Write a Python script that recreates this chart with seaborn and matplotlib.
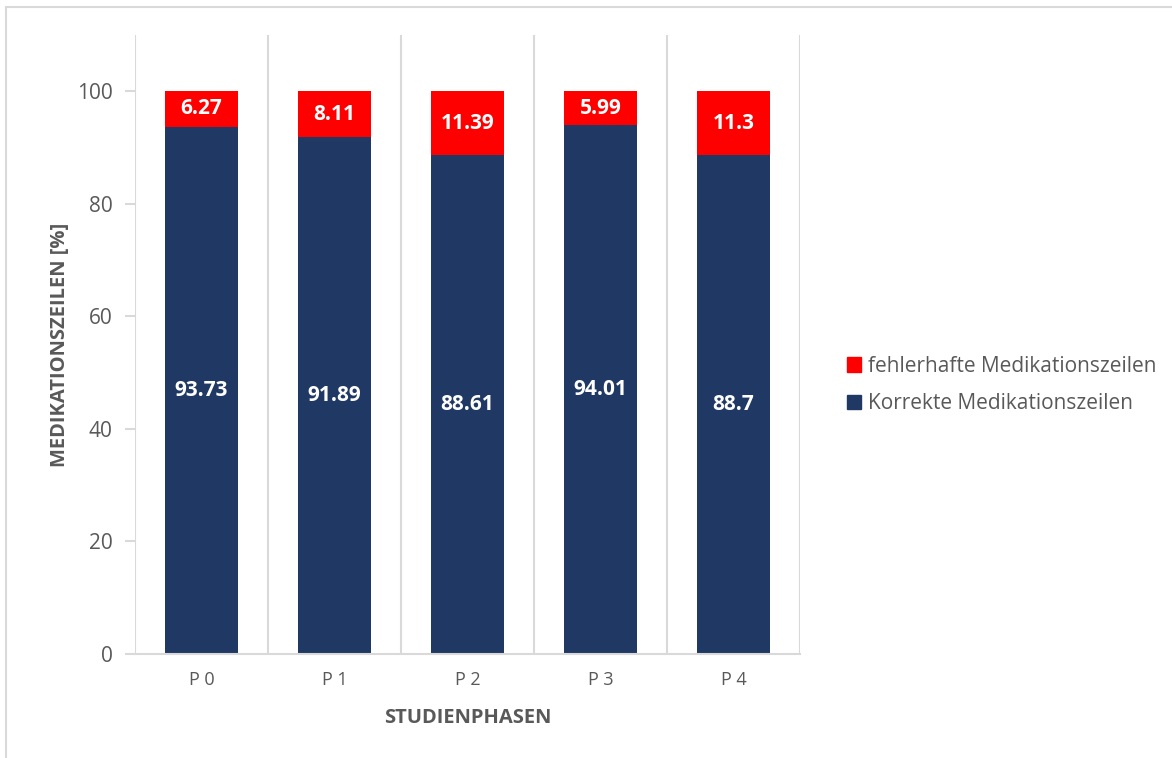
import matplotlib
matplotlib.use("Agg")
import matplotlib.pyplot as plt
import matplotlib.patches as mpatches
import seaborn as sns
import pandas as pd

phases = ["P 0", "P 1", "P 2", "P 3", "P 4"]
correct = [93.73, 91.89, 88.61, 94.01, 88.7]
errors = [6.27, 8.11, 11.39, 5.99, 11.3]
correct_labels = ["93.73", "91.89", "88.61", "94.01", "88.7"]
error_labels = ["6.27", "8.11", "11.39", "5.99", "11.3"]
yticks = [0, 20, 40, 60, 80, 100]

NAVY = "#203864"
RED = "#FF0000"
GRAY = "#595959"
LINE = "#D9D9D9"

sns.set_theme(style="white")
plt.rcParams["font.family"] = ["Open Sans", "DejaVu Sans"]

df = pd.DataFrame({"phase": phases, "correct": correct, "errors": errors})
df["total"] = df["correct"] + df["errors"]

fig = plt.figure(figsize=(11.72, 7.58), dpi=100)
ax = fig.add_axes([135/1172, 1-654/758, (800-135)/1172, (654-35)/758])

sns.barplot(data=df, x="phase", y="total", color=RED, saturation=1, width=0.555,
            ax=ax, zorder=3, linewidth=0)
sns.barplot(data=df, x="phase", y="correct", color=NAVY, saturation=1, width=0.555,
            ax=ax, zorder=3, linewidth=0)

for i, (c, e) in enumerate(zip(correct, errors)):
    ax.text(i, c / 2, correct_labels[i], ha="center", va="center", color="white",
            fontsize=15, fontweight="bold", zorder=5)
    ax.text(i, c + e / 2, error_labels[i], ha="center", va="center", color="white",
            fontsize=15, fontweight="bold", zorder=5)

ax.set_ylim(0, 110)
ax.set_xlim(-0.5, len(phases) - 0.5)
ax.set_yticks(yticks)
ax.set_yticklabels([str(t) for t in yticks])
ax.set_xticks(range(len(phases)))
ax.set_xticks([i - 0.5 for i in range(len(phases) + 1)], minor=True)

for s in ["top", "right", "left"]:
    ax.spines[s].set_visible(False)
ax.spines["bottom"].set_color(LINE)
ax.spines["bottom"].set_linewidth(1.5)
ax.spines["bottom"].set_zorder(4)

ax.grid(False)
ax.xaxis.grid(True, which="minor", color=LINE, linewidth=1.5, zorder=0)
ax.tick_params(axis="x", which="minor", length=6, width=1.5, color=LINE, direction="out")
ax.tick_params(axis="x", which="major", length=0, pad=12, labelsize=13, labelcolor=GRAY)
ax.tick_params(axis="y", which="major", length=7, width=1.5, color=LINE, pad=9,
               labelsize=15, labelcolor=GRAY, left=True)

ax.set_xlabel("STUDIENPHASEN", fontsize=14.5, fontweight="bold", color=GRAY, labelpad=14)
ax.set_ylabel("MEDIKATIONSZEILEN [%]", fontsize=14.5, fontweight="bold", color=GRAY)
ax.yaxis.set_label_coords(-0.098, 0.5)

handles = [mpatches.Patch(color=RED, label="fehlerhafte Medikationszeilen"),
           mpatches.Patch(color=NAVY, label="Korrekte Medikationszeilen")]
leg = fig.legend(handles=handles, loc="center left", bbox_to_anchor=(828/1172, 1-385/758),
                 frameon=False, fontsize=15, handlelength=0.7, handleheight=0.7,
                 handletextpad=0.3, labelspacing=0.8, labelcolor=GRAY)

# outer chart border (top and left visible in reference)
fig.add_artist(plt.Line2D([6/1172, 1], [1-7/758, 1-7/758], color=LINE, linewidth=1.5,
                          transform=fig.transFigure))
fig.add_artist(plt.Line2D([6/1172, 6/1172], [0, 1-7/758], color=LINE, linewidth=1.5,
                          transform=fig.transFigure))

fig.savefig("out.png", dpi=100, facecolor="white")
